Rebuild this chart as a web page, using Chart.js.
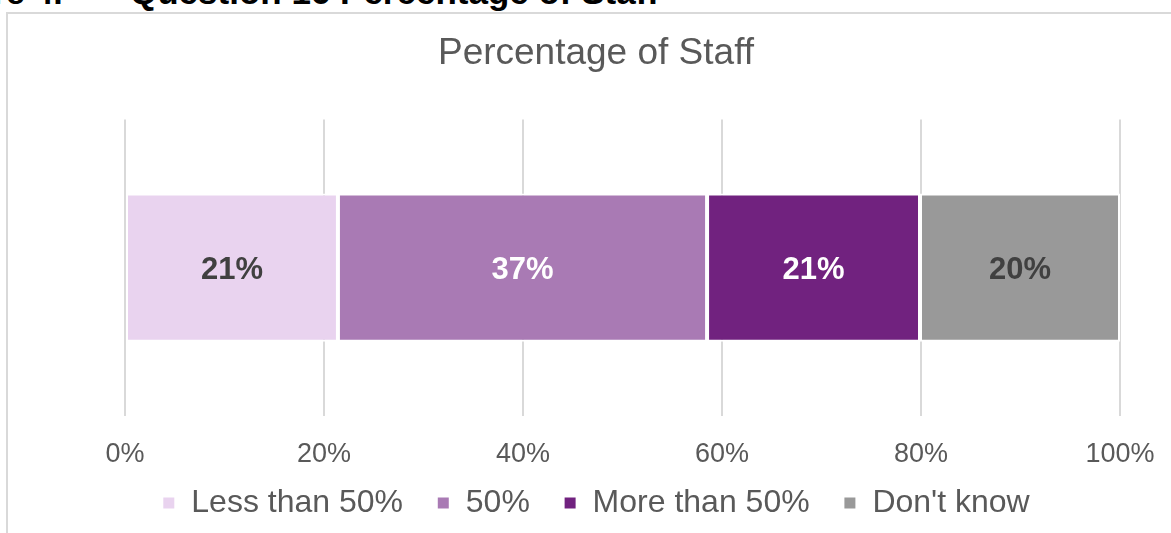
<!DOCTYPE html>
<html>
<head>
<meta charset="utf-8">
<script src="https://cdn.jsdelivr.net/npm/chart.js@4/dist/chart.umd.min.js"></script>
<style>
    html, body { margin: 0; padding: 0; background: #fff; overflow: hidden; }
    body { width: 1171px; height: 533px; position: relative; font-family: "Liberation Sans", Arial, sans-serif; }
    .heading { position: absolute; top: -25px; font-weight: bold; font-size: 34px; line-height: 34px; color: #000; white-space: nowrap; }
    .frame { position: absolute; left: 6px; top: 12px; width: 1200px; height: 600px; border: 2px solid #d9d9d9; }
    .chart-box { position: absolute; left: 6px; top: 0; width: 1180px; height: 533px; }
</style>
</head>
<body>
<div class="heading" style="left:-79px">Figure 4.</div>
<div class="heading" style="left:130px; font-size:35px">Question 16 Percentage of Staff</div>
<div class="frame"></div>
<div class="chart-box"><canvas id="staffChart"></canvas></div>
<script>
// Data
const categories = [''];
const seriesNames = ['Less than 50%', '50%', 'More than 50%', "Don't know"];
const seriesValues = [21.4, 37.1, 21.4, 20.1];
const seriesColors = ['#E9D3EF', '#A97AB4', '#71227F', '#999999'];
const labelColors = ['#404040', '#ffffff', '#ffffff', '#404040'];
const tickValues = [0, 20, 40, 60, 80, 100];

document.addEventListener('DOMContentLoaded', function() {
    const ctx = document.getElementById('staffChart');

    // Draw rounded percentages in the middle of each bar segment
    const barLabels = {
        id: 'barLabels',
        afterDatasetsDraw(chart) {
            const c = chart.ctx;
            c.save();
            c.font = 'bold 31px "Liberation Sans", Arial, sans-serif';
            c.textAlign = 'center';
            c.textBaseline = 'middle';
            chart.data.datasets.forEach(function(ds, i) {
                const meta = chart.getDatasetMeta(i);
                meta.data.forEach(function(bar, j) {
                    const p = bar.getProps(['x', 'y', 'base'], true);
                    c.fillStyle = labelColors[i];
                    c.fillText(Math.round(ds.data[j]) + '%', (p.x + p.base) / 2, p.y + 3);
                });
            });
            c.restore();
        }
    };

    const datasets = seriesNames.map(function(name, i) {
        return {
            label: name,
            data: [seriesValues[i]],
            backgroundColor: seriesColors[i],
            borderColor: '#ffffff',
            borderWidth: 2,
            borderSkipped: false,
            barPercentage: 0.5,
            categoryPercentage: 1
        };
    });

    new Chart(ctx, {
        type: 'bar',
        data: { labels: categories, datasets: datasets },
        plugins: [barLabels],
        options: {
            indexAxis: 'y',
            responsive: true,
            maintainAspectRatio: false,
            animation: false,
            layout: { padding: { top: 0, bottom: 4, left: 0, right: 0 } },
            scales: {
                x: {
                    stacked: true,
                    min: 0,
                    max: 100,
                    afterBuildTicks: function(scale) {
                        scale.ticks = tickValues.map(function(v) { return { value: v }; });
                    },
                    afterFit: function(scale) { scale.height = 55; },
                    grid: { color: '#d9d9d9', lineWidth: 2, drawTicks: false },
                    border: { display: false },
                    ticks: {
                        padding: 22,
                        color: '#595959',
                        font: { size: 27, family: '"Liberation Sans", Arial, sans-serif' },
                        callback: function(v) { return v + '%'; }
                    }
                },
                y: {
                    type: 'category',
                    stacked: true,
                    afterFit: function(scale) { scale.width = 119; },
                    grid: { display: false },
                    border: { display: false },
                    ticks: { display: false }
                },
                y2: {
                    type: 'category',
                    position: 'right',
                    labels: categories,
                    afterFit: function(scale) { scale.width = 66; },
                    grid: { display: false },
                    border: { display: false },
                    ticks: { display: false }
                }
            },
            plugins: {
                title: {
                    display: true,
                    text: 'Percentage of Staff',
                    color: '#595959',
                    font: { size: 37, weight: 'normal', family: '"Liberation Sans", Arial, sans-serif' },
                    padding: { top: 32, bottom: 43 }
                },
                legend: {
                    position: 'bottom',
                    labels: {
                        boxWidth: 13,
                        boxHeight: 13,
                        padding: 16,
                        color: '#595959',
                        font: { size: 32, family: '"Liberation Sans", Arial, sans-serif' },
                        // extra spacing between legend entries
                        generateLabels: function(chart) {
                            const items = Chart.defaults.plugins.legend.labels.generateLabels(chart);
                            items.forEach(function(item, i) {
                                if (i < items.length - 1) item.text = item.text + '  ';
                            });
                            return items;
                        }
                    }
                },
                tooltip: { enabled: false }
            }
        }
    });
});
</script>
</body>
</html>
